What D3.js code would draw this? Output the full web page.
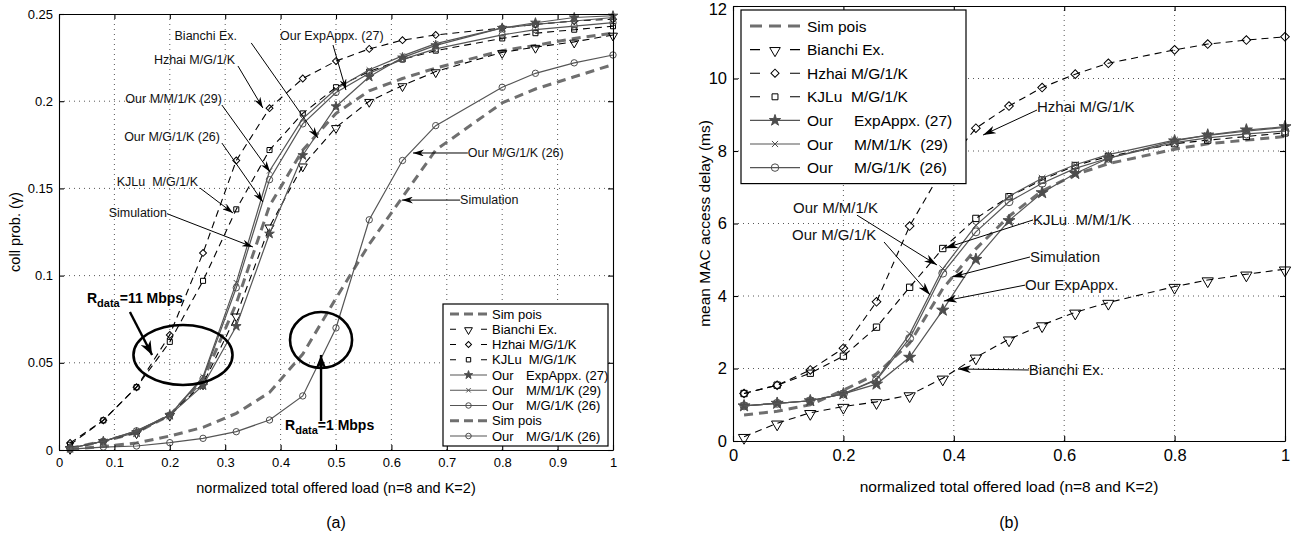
<!DOCTYPE html>
<html>
<head>
<meta charset="utf-8">
<script src="https://cdn.jsdelivr.net/npm/d3@7"></script>
<style>
body { margin: 0; background: #fff; }
text { font-family: "Liberation Sans", Arial, sans-serif; white-space: pre; }
</style>
</head>
<body>
<div></div>
<script>
var width = 1305;
var height = 534;

// offered load points (same for both panels)
var loads = [0.02, 0.08, 0.14, 0.2, 0.26, 0.32, 0.38, 0.44, 0.5, 0.56, 0.62, 0.68, 0.8, 0.86, 0.93, 1.0];

// (a) collision probability, R_data = 11 Mbps
var simPoisA11 = [0.001, 0.005, 0.010, 0.020, 0.040, 0.084, 0.140, 0.172, 0.193, 0.206, 0.213, 0.219, 0.229, 0.232, 0.236, 0.239];
var bianchiA   = [0.001, 0.005, 0.010, 0.020, 0.038, 0.077, 0.128, 0.163, 0.185, 0.200, 0.209, 0.217, 0.228, 0.231, 0.234, 0.238];
var hzhaiA     = [0.004, 0.017, 0.036, 0.066, 0.113, 0.166, 0.196, 0.213, 0.223, 0.230, 0.235, 0.238, 0.242, 0.244, 0.246, 0.247];
var kjluA      = [0.003, 0.017, 0.036, 0.062, 0.097, 0.138, 0.172, 0.193, 0.208, 0.217, 0.224, 0.229, 0.236, 0.239, 0.241, 0.243];
var expAppxA   = [0.001, 0.005, 0.010, 0.020, 0.037, 0.071, 0.124, 0.169, 0.197, 0.214, 0.225, 0.232, 0.242, 0.245, 0.248, 0.249];
var mm1kA      = [0.001, 0.005, 0.011, 0.020, 0.042, 0.096, 0.160, 0.190, 0.207, 0.218, 0.226, 0.233, 0.242, 0.244, 0.246, 0.248];
var mg1kA      = [0.001, 0.005, 0.011, 0.020, 0.041, 0.093, 0.155, 0.187, 0.205, 0.216, 0.224, 0.230, 0.238, 0.241, 0.243, 0.245];
// (a) R_data = 1 Mbps
var simPoisA1  = [0.0005, 0.002, 0.004, 0.008, 0.013, 0.021, 0.033, 0.055, 0.087, 0.118, 0.145, 0.172, 0.199, 0.207, 0.214, 0.221];
var mg1kA1     = [0.0005, 0.0017, 0.0023, 0.0042, 0.0067, 0.0105, 0.0172, 0.031, 0.070, 0.132, 0.166, 0.186, 0.208, 0.216, 0.222, 0.2265];

// (b) mean MAC access delay (ms)
var simPoisB = [0.72, 0.82, 1.0, 1.4, 1.85, 2.7, 4.2, 5.3, 6.2, 6.9, 7.35, 7.65, 8.05, 8.2, 8.3, 8.4];
var bianchiB = [0.12, 0.49, 0.78, 0.95, 1.08, 1.27, 1.73, 2.31, 2.81, 3.2, 3.55, 3.82, 4.26, 4.44, 4.6, 4.74];
var hzhaiB   = [1.31, 1.54, 1.96, 2.56, 3.84, 5.93, 7.5, 8.63, 9.24, 9.75, 10.12, 10.42, 10.79, 10.95, 11.06, 11.15];
var kjluB    = [1.31, 1.54, 1.87, 2.34, 3.14, 4.24, 5.31, 6.14, 6.74, 7.2, 7.6, 7.85, 8.2, 8.3, 8.4, 8.5];
var expAppxB = [0.97, 1.04, 1.11, 1.3, 1.57, 2.31, 3.61, 5.01, 6.08, 6.85, 7.38, 7.8, 8.28, 8.44, 8.58, 8.67];
var mm1kB    = [0.97, 1.04, 1.11, 1.3, 1.7, 2.95, 4.75, 5.95, 6.75, 7.25, 7.62, 7.9, 8.3, 8.43, 8.55, 8.65];
var mg1kB    = [0.97, 1.04, 1.11, 1.3, 1.68, 2.83, 4.63, 5.77, 6.6, 7.11, 7.52, 7.8, 8.23, 8.36, 8.47, 8.55];

var xTicksA = [0, 0.1, 0.2, 0.3, 0.4, 0.5, 0.6, 0.7, 0.8, 0.9, 1];
var xTickLabelsA = ['0', '0.1', '0.2', '0.3', '0.4', '0.5', '0.6', '0.7', '0.8', '0.9', '1'];
var yTicksA = [0, 0.05, 0.1, 0.15, 0.2, 0.25];
var yTickLabelsA = ['0', '0.05', '0.1', '0.15', '0.2', '0.25'];
var xTicksB = [0, 0.2, 0.4, 0.6, 0.8, 1];
var xTickLabelsB = ['0', '0.2', '0.4', '0.6', '0.8', '1'];
var yTicksB = [0, 2, 4, 6, 8, 10, 12];
var yTickLabelsB = ['0', '2', '4', '6', '8', '10', '12'];

var styles = {
    sim:     { stroke: '#6f6f6f', width: 3, dash: '9,6', marker: null },
    bianchi: { stroke: '#000', width: 1.1, dash: '7,5', marker: 'tri' },
    hzhai:   { stroke: '#000', width: 1.1, dash: '7,5', marker: 'diamond' },
    kjlu:    { stroke: '#000', width: 1.1, dash: '7,5', marker: 'square' },
    exp:     { stroke: '#555', width: 1.2, dash: null, marker: 'star' },
    mm1k:    { stroke: '#555', width: 1.2, dash: null, marker: 'times' },
    mg1k:    { stroke: '#555', width: 1.2, dash: null, marker: 'circle' }
};

var seriesA = [
    { label: ['Sim pois'], values: simPoisA11, style: 'sim' },
    { label: ['Bianchi Ex.'], values: bianchiA, style: 'bianchi' },
    { label: ['Hzhai M/G/1/K'], values: hzhaiA, style: 'hzhai' },
    { label: ['KJLu  M/G/1/K'], values: kjluA, style: 'kjlu' },
    { label: ['Our', 'ExpAppx. (27)'], values: expAppxA, style: 'exp' },
    { label: ['Our', 'M/M/1/K (29)'], values: mm1kA, style: 'mm1k' },
    { label: ['Our', 'M/G/1/K (26)'], values: mg1kA, style: 'mg1k' },
    { label: ['Sim pois'], values: simPoisA1, style: 'sim' },
    { label: ['Our', 'M/G/1/K (26)'], values: mg1kA1, style: 'mg1k' }
];

var seriesB = [
    { label: ['Sim pois'], values: simPoisB, style: 'sim' },
    { label: ['Bianchi Ex.'], values: bianchiB, style: 'bianchi' },
    { label: ['Hzhai M/G/1/K'], values: hzhaiB, style: 'hzhai' },
    { label: ['KJLu  M/G/1/K'], values: kjluB, style: 'kjlu' },
    { label: ['Our', 'ExpAppx. (27)'], values: expAppxB, style: 'exp' },
    { label: ['Our', 'M/M/1/K  (29)'], values: mm1kB, style: 'mm1k' },
    { label: ['Our', 'M/G/1/K  (26)'], values: mg1kB, style: 'mg1k' }
];

// annotations in data coordinates: text anchor point, arrow from -> to
var notesA = [
    { text: 'Bianchi Ex.', at: [0.265, 0.2374], anchor: 'middle', from: [0.347, 0.2334], to: [0.4675, 0.1789] },
    { text: 'Our ExpAppx. (27)', at: [0.399, 0.2374], anchor: 'start', from: [0.4946, 0.2322], to: [0.518, 0.2064] },
    { text: 'Hzhai M/G/1/K', at: [0.318, 0.2236], anchor: 'end', from: [0.323, 0.2202], to: [0.368, 0.1961] },
    { text: 'Our M/M/1/K (29)', at: [0.294, 0.2013], anchor: 'end', from: [0.294, 0.1978], to: [0.381, 0.1594] },
    { text: 'Our M/G/1/K (26)', at: [0.2906, 0.1795], anchor: 'end', from: [0.294, 0.176], to: [0.368, 0.1422] },
    { text: 'KJLu  M/G/1/K', at: [0.251, 0.1537], anchor: 'end', from: [0.2545, 0.1502], to: [0.314, 0.1359] },
    { text: 'Simulation', at: [0.195, 0.1359], anchor: 'end', from: [0.195, 0.1355], to: [0.35, 0.1164] },
    { text: 'Our M/G/1/K (26)', at: [0.738, 0.1703], anchor: 'start', from: [0.738, 0.1703], to: [0.639, 0.1703] },
    { text: 'Simulation', at: [0.724, 0.1433], anchor: 'start', from: [0.724, 0.1433], to: [0.619, 0.1433] }
];

var notesB = [
    { text: 'Hzhai M/G/1/K', at: [0.5507, 9.214], anchor: 'start', from: [0.5507, 9.13], to: [0.453, 8.44] },
    { text: 'Our M/M/1/K', at: [0.1087, 6.43], anchor: 'start', from: [0.2246, 6.23], to: [0.3696, 4.855] },
    { text: 'Our M/G/1/K', at: [0.1069, 5.68], anchor: 'start', from: [0.2736, 5.49], to: [0.357, 4.03] },
    { text: 'KJLu  M/M/1/K', at: [0.5435, 6.097], anchor: 'start', from: [0.5435, 6.097], to: [0.384, 5.32] },
    { text: 'Simulation', at: [0.538, 5.076], anchor: 'start', from: [0.538, 5.076], to: [0.3967, 4.524] },
    { text: 'Our ExpAppx.', at: [0.529, 4.30], anchor: 'start', from: [0.529, 4.30], to: [0.382, 3.86] },
    { text: 'Bianchi Ex.', at: [0.536, 1.959], anchor: 'start', from: [0.536, 1.959], to: [0.4076, 1.986] }
];

// ellipses and rate labels of panel (a)
var ellipsesA = [
    { cx: 0.2238, cy: 0.0545, rx: 0.0894, ry: 0.0172 },
    { cx: 0.473, cy: 0.0631, rx: 0.056, ry: 0.016 }
];
var rateLabelsA = [
    { rate: '=11 Mbps', at: [0.0505, 0.0845], from: [0.128, 0.0791], to: [0.168, 0.0545] },
    { rate: '=1 Mbps', at: [0.408, 0.0115], from: [0.473, 0.0166], to: [0.473, 0.0545] }
];

var svg = d3.select('div')
    .append('svg').attr('width', width).attr('height', height);

var defs = svg.append('defs');
function arrowDef(id, len, wid) {
    defs.append('marker')
        .attr('id', id)
        .attr('markerUnits', 'userSpaceOnUse')
        .attr('viewBox', '0 0 ' + len + ' ' + wid)
        .attr('refX', len).attr('refY', wid / 2)
        .attr('markerWidth', len).attr('markerHeight', wid)
        .attr('orient', 'auto')
        .append('path')
        .attr('d', 'M0,0 L' + len + ',' + (wid / 2) + ' L0,' + wid + ' L' + (len * 0.3) + ',' + (wid / 2) + 'Z')
        .attr('fill', '#000');
}
arrowDef('arrS', 11, 7);
arrowDef('arrB', 13, 8);
arrowDef('arrT', 14, 11);

function symbolPath(kind, size) {
    var t = d3.symbolTimes || d3.symbolX;
    var map = {
        tri: d3.symbolTriangle,
        diamond: d3.symbolSquare,
        square: d3.symbolSquare,
        star: d3.symbolStar,
        times: t,
        circle: d3.symbolCircle
    };
    var s = size;
    if (kind === 'tri') s = size * 1.1;
    if (kind === 'star') s = size * 0.9;
    if (kind === 'times') s = size * 0.6;
    if (kind === 'square') s = size * 0.8;
    if (kind === 'diamond') s = size * 0.75;
    return d3.symbol().type(map[kind]).size(s)();
}
function symbolRotate(kind) {
    if (kind === 'tri') return 180;
    if (kind === 'diamond') return 45;
    return 0;
}

function drawMarker(g, kind, px, py, size, color) {
    var filled = kind === 'star';
    var rot = symbolRotate(kind);
    if (kind === 'times' && !(d3.symbolTimes || d3.symbolX)) { rot = 45; }
    g.append('path')
        .attr('d', symbolPath(kind, size))
        .attr('transform', 'translate(' + px + ',' + py + ') rotate(' + rot + ')' + (kind === 'tri' ? ' translate(0,' + (-Math.sqrt(size) * 0.15) + ')' : ''))
        .attr('fill', filled ? color : 'none')
        .attr('stroke', color)
        .attr('stroke-width', 1);
}

function drawPanel(cfg) {
    var x = d3.scaleLinear().domain([0, 1]).range(cfg.xRange);
    var y = d3.scaleLinear().domain(cfg.yDomain).range(cfg.yRange);
    var g = svg.append('g');

    // grid
    g.append('g').selectAll('line')
        .data(cfg.xTicks.slice(1, -1))
        .enter().append('line')
        .attr('x1', function (d) { return x(d); }).attr('x2', function (d) { return x(d); })
        .attr('y1', cfg.yRange[0]).attr('y2', cfg.yRange[1])
        .attr('stroke', '#444').attr('stroke-width', 0.9).attr('stroke-dasharray', '1,4');
    g.append('g').selectAll('line')
        .data(cfg.yTicks.slice(1, -1))
        .enter().append('line')
        .attr('y1', function (d) { return y(d); }).attr('y2', function (d) { return y(d); })
        .attr('x1', cfg.xRange[0]).attr('x2', cfg.xRange[1])
        .attr('stroke', '#444').attr('stroke-width', 0.9).attr('stroke-dasharray', '1,4');

    // series
    var line = d3.line()
        .x(function (d) { return x(d[0]); })
        .y(function (d) { return y(d[1]); });
    cfg.series.forEach(function (s) {
        var st = styles[s.style];
        var pts = loads.map(function (l, i) { return [l, s.values[i]]; });
        g.append('path')
            .datum(pts)
            .attr('d', line)
            .attr('fill', 'none')
            .attr('stroke', st.stroke)
            .attr('stroke-width', st.width)
            .attr('stroke-dasharray', st.dash);
        if (st.marker) {
            var mg = g.append('g');
            pts.forEach(function (p) {
                drawMarker(mg, st.marker, x(p[0]), y(p[1]), cfg.markerSize, st.stroke === '#000' ? '#000' : '#4d4d4d');
            });
        }
    });

    // extra decorations
    if (cfg.extra) cfg.extra(g, x, y);

    // annotations
    cfg.notes.forEach(function (n) {
        g.append('line')
            .attr('x1', x(n.from[0])).attr('y1', y(n.from[1]))
            .attr('x2', x(n.to[0])).attr('y2', y(n.to[1]))
            .attr('stroke', '#000').attr('stroke-width', 1)
            .attr('marker-end', cfg.arrow);
        g.append('text')
            .attr('x', x(n.at[0])).attr('y', y(n.at[1]))
            .attr('dy', '0.35em')
            .attr('text-anchor', n.anchor)
            .attr('font-size', cfg.noteFont)
            .attr('fill', '#111')
            .text(n.text);
    });

    // axes (box with inward ticks)
    var xb = d3.axisBottom(x).tickValues(cfg.xTicks)
        .tickFormat(function (d, i) { return cfg.xLabels[i]; })
        .tickSize(-5).tickSizeOuter(0).tickPadding(8);
    var xt = d3.axisTop(x).tickValues(cfg.xTicks).tickFormat('').tickSize(-5).tickSizeOuter(0);
    var yl = d3.axisLeft(y).tickValues(cfg.yTicks)
        .tickFormat(function (d, i) { return cfg.yLabels[i]; })
        .tickSize(-5).tickSizeOuter(0).tickPadding(6);
    var yr = d3.axisRight(y).tickValues(cfg.yTicks).tickFormat('').tickSize(-5).tickSizeOuter(0);

    [
        [xb, 'translate(0,' + cfg.yRange[0] + ')'],
        [xt, 'translate(0,' + cfg.yRange[1] + ')'],
        [yl, 'translate(' + cfg.xRange[0] + ',0)'],
        [yr, 'translate(' + cfg.xRange[1] + ',0)']
    ].forEach(function (a) {
        var ag = svg.append('g').attr('transform', a[1]).call(a[0]);
        ag.selectAll('text').attr('font-size', cfg.tickFont)
            .attr('font-family', '"Liberation Sans", Arial, sans-serif').attr('fill', '#000');
        ag.selectAll('path,line').attr('stroke', '#000').attr('stroke-width', 1.1);
        if (a[0] === yl) {
            // keep the topmost label inside the page
            ag.selectAll('text').filter(function (d) { return y(d) - cfg.tickFont * 0.55 < 0; })
                .attr('dy', (cfg.tickFont * 0.55 - y(cfg.yDomain[1]) + 1) + 'px')
                .attr('dominant-baseline', 'middle');
        }
    });

    // axis titles
    var cx = (cfg.xRange[0] + cfg.xRange[1]) / 2;
    svg.append('text')
        .attr('x', cx).attr('y', cfg.xTitleY)
        .attr('text-anchor', 'middle').attr('font-size', cfg.titleFont)
        .text('normalized total offered load (n=8 and K=2)');
    svg.append('text')
        .attr('transform', 'translate(' + cfg.yTitleX + ',' + ((cfg.yRange[0] + cfg.yRange[1]) / 2) + ') rotate(-90)')
        .attr('text-anchor', 'middle').attr('font-size', cfg.titleFont)
        .text(cfg.yTitle);
    svg.append('text')
        .attr('x', cx).attr('y', 528)
        .attr('text-anchor', 'middle').attr('font-size', 16)
        .text(cfg.panel);

    // legend
    var L = cfg.legend;
    var lg = svg.append('g');
    lg.append('rect')
        .attr('x', L.x).attr('y', L.y).attr('width', L.w)
        .attr('height', L.pad * 2 + L.row * (cfg.series.length - 1))
        .attr('fill', '#fff').attr('stroke', '#000').attr('stroke-width', 1.2);
    cfg.series.forEach(function (s, i) {
        var st = styles[s.style];
        var yy = L.y + L.pad + i * L.row;
        lg.append('line')
            .attr('x1', L.x + L.l0).attr('x2', L.x + L.l1)
            .attr('y1', yy).attr('y2', yy)
            .attr('stroke', st.stroke).attr('stroke-width', st.width)
            .attr('stroke-dasharray', st.dash ? (s.style === 'sim' ? L.simDash : L.blkDash) : null);
        if (st.marker) {
            drawMarker(lg, st.marker, L.x + (L.l0 + L.l1) / 2, yy, L.markerSize, st.stroke === '#000' ? '#000' : '#4d4d4d');
        }
        lg.append('text')
            .attr('x', L.x + L.t0).attr('y', yy).attr('dy', '0.36em')
            .attr('font-size', L.font).text(s.label[0]);
        if (s.label.length > 1) {
            lg.append('text')
                .attr('x', L.x + L.t1).attr('y', yy).attr('dy', '0.36em')
                .attr('font-size', L.font).text(s.label[1]);
        }
    });
}

drawPanel({
    xRange: [59, 613], yDomain: [0, 0.25], yRange: [450, 14],
    xTicks: xTicksA, xLabels: xTickLabelsA, yTicks: yTicksA, yLabels: yTickLabelsA,
    series: seriesA, notes: notesA, markerSize: 32, arrow: 'url(#arrS)',
    noteFont: 12.5, tickFont: 13, titleFont: 14.5, xTitleY: 493, yTitleX: 20,
    yTitle: 'coll prob. (\u03b3)', panel: '(a)',
    legend: { x: 443, y: 304, w: 165, pad: 10, row: 15.25, l0: 7, l1: 44, t0: 49, t1: 83,
              font: 13, markerSize: 24, simDash: '9,5', blkDash: '6,25' },
    extra: function (g, x, y) {
        ellipsesA.forEach(function (e) {
            g.append('ellipse')
                .attr('cx', x(e.cx)).attr('cy', y(e.cy))
                .attr('rx', x(e.rx) - x(0)).attr('ry', y(0) - y(e.ry))
                .attr('fill', 'none').attr('stroke', '#000').attr('stroke-width', 2.6);
        });
        rateLabelsA.forEach(function (r) {
            g.append('line')
                .attr('x1', x(r.from[0])).attr('y1', y(r.from[1]))
                .attr('x2', x(r.to[0])).attr('y2', y(r.to[1]))
                .attr('stroke', '#000').attr('stroke-width', 2.4)
                .attr('marker-end', 'url(#arrT)');
            var t = g.append('text')
                .attr('x', x(r.at[0])).attr('y', y(r.at[1]))
                .attr('font-family', '"Liberation Serif", "Times New Roman", serif')
                .attr('font-weight', 'bold').attr('font-size', 14);
            t.append('tspan').text('R');
            t.append('tspan').attr('dy', 4).attr('font-size', 11).text('data');
            t.append('tspan').attr('dy', -4).text(r.rate);
        });
    }
});

drawPanel({
    xRange: [733, 1285], yDomain: [0, 12], yRange: [441, 6],
    xTicks: xTicksB, xLabels: xTickLabelsB, yTicks: yTicksB, yLabels: yTickLabelsB,
    series: seriesB, notes: notesB, markerSize: 50, arrow: 'url(#arrB)',
    noteFont: 15, tickFont: 16.5, titleFont: 15.5, xTitleY: 492, yTitleX: 710,
    yTitle: 'mean MAC access delay (ms)', panel: '(b)',
    legend: { x: 741, y: 10, w: 225, pad: 16, row: 23.6, l0: 9, l1: 59, t0: 66, t1: 113,
              font: 15.5, markerSize: 44, simDash: '12,7', blkDash: '10,30' }
});
</script>
</body>
</html>
